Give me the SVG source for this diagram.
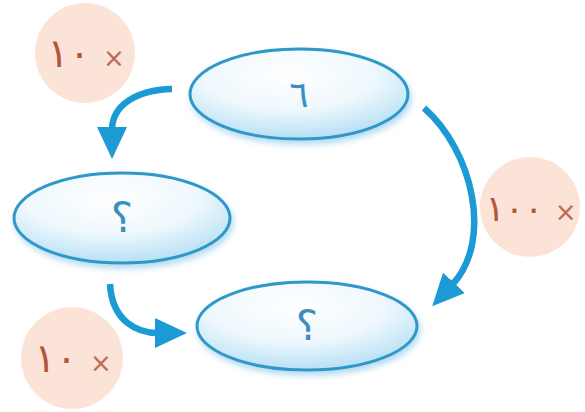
<svg xmlns="http://www.w3.org/2000/svg" width="585" height="412" viewBox="0 0 585 412">
<style>
.node ellipse{fill:url(#eg);stroke:#2f98c8;stroke-width:3;filter:url(#sh)}
.nlab{font-family:"DejaVu Sans",sans-serif;font-size:36px;fill:#3a8fbf;text-anchor:middle}
.q{font-size:42px}
.badge circle{fill:#fbe4d7}
.blab{font-family:"DejaVu Sans",sans-serif;font-size:40px;fill:#b4553c;text-anchor:middle}
.x{font-size:26px;fill:#c06a55}
.conn path{fill:none;stroke:#1b9ad6;stroke-width:6.5;marker-end:url(#ah)}
</style>
<defs>
<radialGradient id="eg" cx="0.45" cy="0.28" r="0.8">
<stop offset="0" stop-color="#ffffff"/>
<stop offset="0.5" stop-color="#eef8fd"/>
<stop offset="1" stop-color="#a9daf2"/>
</radialGradient>
<filter id="sh" x="-20%" y="-20%" width="140%" height="160%">
<feDropShadow dx="2" dy="4" stdDeviation="3" flood-color="#7fc3e6" flood-opacity="0.6"/>
</filter>
<marker id="ah" markerUnits="userSpaceOnUse" markerWidth="34" markerHeight="30" refX="3" refY="15" orient="auto">
<path d="M0,0 L32,15 L0,30 z" fill="#1b9ad6"/>
</marker>
</defs>
<rect width="585" height="412" fill="#ffffff"/>
<g id="badge1" class="badge"><circle cx="85" cy="53" r="50"/><text class="blab" x="86" y="67" direction="ltr" unicode-bidi="bidi-override">١٠ <tspan class="x">×</tspan></text></g>
<g id="badge2" class="badge"><circle cx="530" cy="207" r="50"/><text class="blab" x="531" y="221" direction="ltr" unicode-bidi="bidi-override" style="font-size:36px">١٠٠ <tspan class="x">×</tspan></text></g>
<g id="badge3" class="badge"><circle cx="72" cy="358" r="51"/><text class="blab" x="73" y="372" direction="ltr" unicode-bidi="bidi-override">١٠ <tspan class="x">×</tspan></text></g>
<g id="connectors" class="conn">
<path d="M172,89 C135,90 112,106 112,130"/>
<path d="M424,108 C472,150 494,240 452,285"/>
<path d="M110,284 C112,322 138,333 158,333"/>
</g>
<g id="n6" class="node"><ellipse cx="299" cy="94" rx="109" ry="45"/><text class="nlab" x="299" y="107">٦</text></g>
<g id="nq1" class="node"><ellipse cx="122" cy="218" rx="108" ry="45"/><text class="nlab q" x="122" y="232">؟</text></g>
<g id="nq2" class="node"><ellipse cx="307" cy="326" rx="110" ry="44"/><text class="nlab q" x="307" y="340">؟</text></g>
</svg>
